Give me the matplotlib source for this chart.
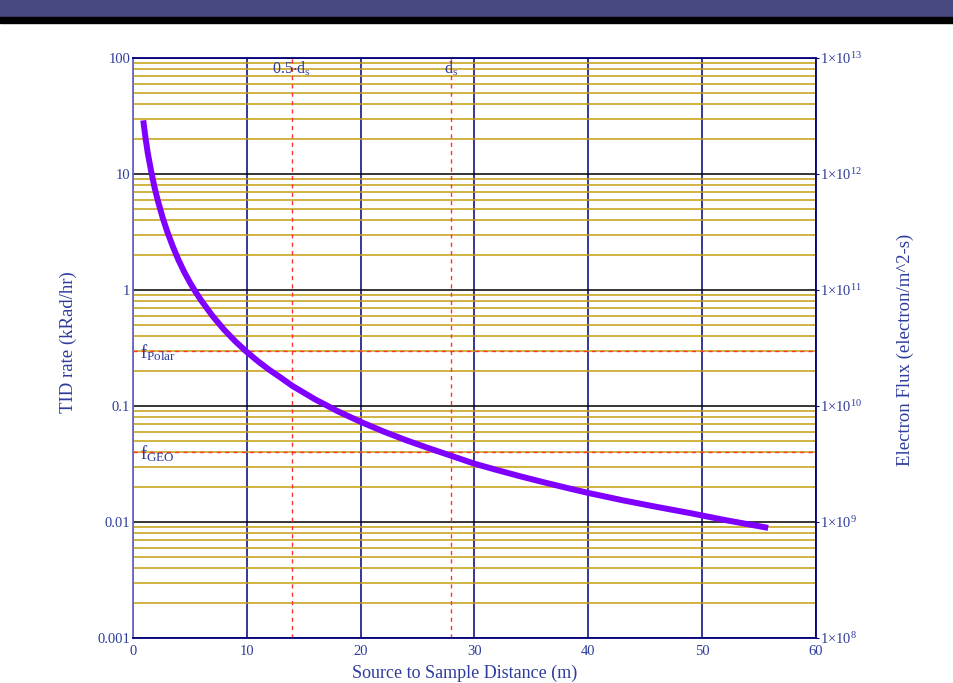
import numpy as np
import matplotlib
matplotlib.use("Agg")
import matplotlib.pyplot as plt
from matplotlib.patches import Rectangle
from matplotlib.ticker import FixedLocator, FixedFormatter, NullLocator

plt.rcParams['font.family'] = ['Liberation Serif', 'DejaVu Serif']
plt.rcParams['mathtext.default'] = 'regular'

# distance (m) vs TID rate (kRad/hr)
distance = [0.9, 1.1, 1.3, 1.6, 1.9, 2.2, 2.6, 3.0, 3.5, 4.0, 4.5, 5.0, 5.5, 6.0, 7.0,
            8.0, 9.0, 10, 11, 12, 13, 14, 16, 18, 20, 22, 24, 26, 28, 30, 32, 34,
            36, 38, 40, 43, 46, 49, 52, 55.8]
tid_rate = [29, 20.4, 15.1, 10.5, 7.6, 5.8, 4.22, 3.2, 2.37, 1.81, 1.43, 1.16, 0.96, 0.81,
            0.595, 0.455, 0.36, 0.292, 0.242, 0.204, 0.175, 0.149, 0.114, 0.09, 0.073,
            0.0603, 0.0507, 0.0432, 0.0371, 0.0318, 0.028, 0.0248, 0.0221, 0.0198, 0.0178,
            0.0154, 0.0135, 0.0119, 0.0104, 0.0089]

d_s = 27.9
f_polar = 0.3
f_geo = 0.04

x_ticks = [0, 10, 20, 30, 40, 50, 60]
left_ticks = [0.001, 0.01, 0.1, 1, 10, 100]
left_labels = ["0.001", "0.01", "0.1", "1", "10", "100"]
right_ticks = [1e8, 1e9, 1e10, 1e11, 1e12, 1e13]
right_labels = [r"$1{\times}10^{8}$", r"$1{\times}10^{9}$", r"$1{\times}10^{10}$",
                r"$1{\times}10^{11}$", r"$1{\times}10^{12}$", r"$1{\times}10^{13}$"]

W, H = 954, 683
txt = "#2E3C9C"
navy = "#00007A"
gold = "#C4A010"
red = "#FF3333"

fig = plt.figure(figsize=(W / 100, H / 100), dpi=100)
fig.patch.set_facecolor("white")

# header bar
fig.patches.append(Rectangle((0, 1 - 17 / H), 1, 17 / H, transform=fig.transFigure,
                             color="#474A7E", zorder=0))
fig.patches.append(Rectangle((0, 1 - 23 / H), 1, 6 / H, transform=fig.transFigure,
                             color="black", zorder=0))

ax = fig.add_axes([133 / W, (H - 638) / H, (816 - 133) / W, (638 - 58) / H])
ax.set_yscale("log")
ax.set_xlim(0, 60)
ax.set_ylim(1e-3, 1e2)

ax.xaxis.set_major_locator(FixedLocator(x_ticks))
ax.xaxis.set_minor_locator(NullLocator())
ax.yaxis.set_major_locator(FixedLocator(left_ticks))
ax.yaxis.set_major_formatter(FixedFormatter(left_labels))

ax.yaxis.grid(True, which="minor", color=gold, lw=1.1)
ax.yaxis.grid(True, which="major", color="black", lw=1.1)
ax.xaxis.grid(True, which="major", color=navy, lw=1.1)
ax.set_axisbelow(True)

ax.tick_params(axis="both", which="both", length=0, labelsize=10.5, labelcolor=txt)
ax.tick_params(axis="y", pad=2)
ax.tick_params(axis="x", pad=5)
ax.spines["left"].set_color("#6A6AC8")
for s in ["top", "bottom", "right"]:
    ax.spines[s].set_color(navy)
for s in ax.spines.values():
    s.set_linewidth(1.3)

# reference lines
ax.axvline(0.5 * d_s, color=red, lw=1, ls=(0, (3, 3)), zorder=2)
ax.axvline(d_s, color=red, lw=1, ls=(0, (3, 3)), zorder=2)
ax.axhline(f_polar, color=red, lw=1, ls=(0, (3, 3)), zorder=2)
ax.axhline(f_geo, color=red, lw=1, ls=(0, (3, 3)), zorder=2)

ax.text(0.5 * d_s, 80, r"$0.5{\cdot}d_s$", color=txt, fontsize=11.5, ha="center", va="center")
ax.text(d_s, 80, r"$d_s$", color=txt, fontsize=11.5, ha="center", va="center")
ax.text(0.6, f_polar * 0.97, r"$f_{Polar}$", color=txt, fontsize=13.5, ha="left", va="center")
ax.text(0.6, f_geo * 0.97, r"$f_{GEO}$", color=txt, fontsize=13.5, ha="left", va="center")

ax.plot(distance, tid_rate, color="#8000FF", lw=4.3, solid_capstyle="butt",
        solid_joinstyle="round", zorder=3)

# right axis: electron flux
ax2 = ax.twinx()
ax2.set_yscale("log")
ax2.set_ylim(1e8, 1e13)
ax2.yaxis.set_major_locator(FixedLocator(right_ticks))
ax2.yaxis.set_major_formatter(FixedFormatter(right_labels))
ax2.yaxis.set_minor_locator(NullLocator())
ax2.tick_params(axis="y", length=2, color=navy, labelsize=10.5, labelcolor=txt, pad=1)
for s in ax2.spines.values():
    s.set_visible(False)

fig.text(68 / W, (H - 342) / H, "TID rate (kRad/hr)", rotation=90, color=txt,
         fontsize=13.5, ha="center", va="center")
fig.text(905 / W, (H - 350) / H, "Electron Flux (electron/m^2-s)", rotation=90,
         color=txt, fontsize=13.5, ha="center", va="center")
fig.text(465 / W, (H - 678) / H, "Source to Sample Distance (m)", color=txt,
         fontsize=13, ha="center", va="baseline")

fig.savefig("out.png", dpi=100)
